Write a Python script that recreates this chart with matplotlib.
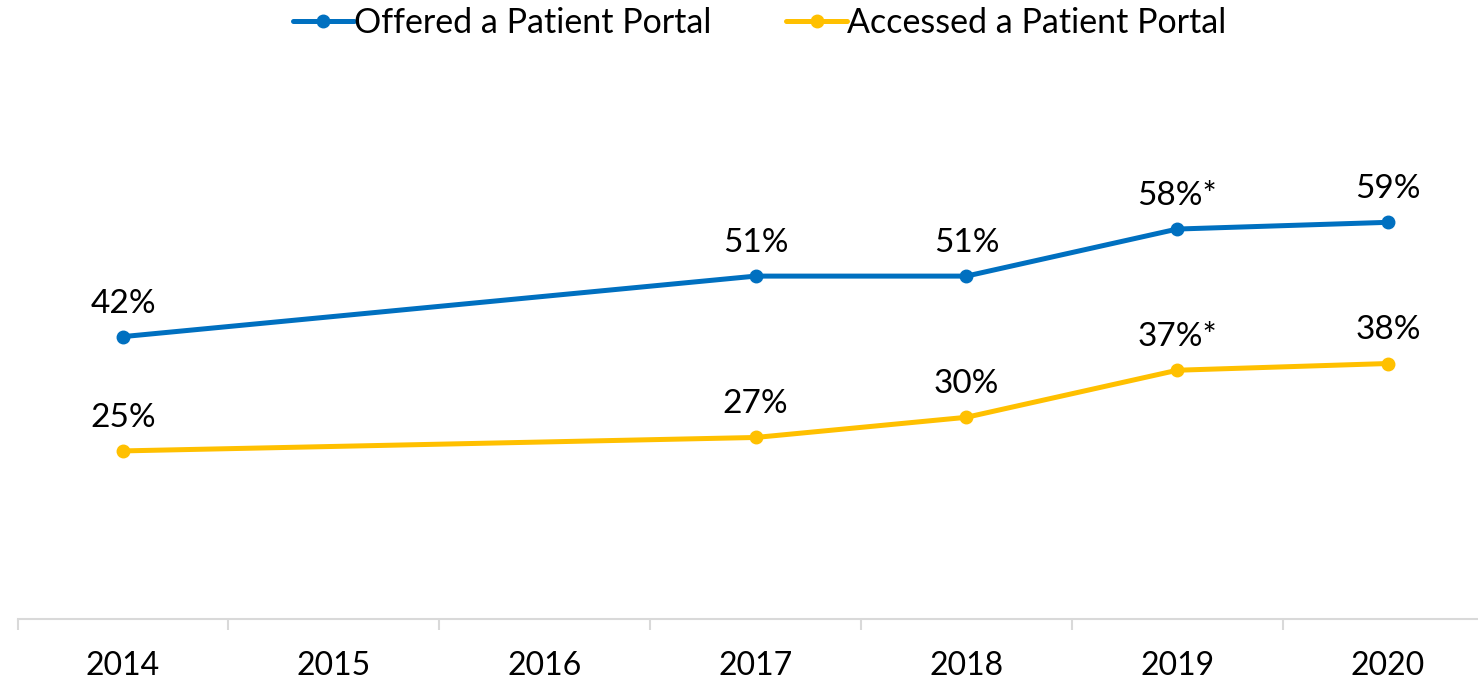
import matplotlib.pyplot as plt
import numpy as np

years = ["2014", "2015", "2016", "2017", "2018", "2019", "2020"]
offered_years = ["2014", "2017", "2018", "2019", "2020"]
offered = [42, 51, 51, 58, 59]
offered_labels = ["42%", "51%", "51%", "58%*", "59%"]
accessed = [25, 27, 30, 37, 38]
accessed_labels = ["25%", "27%", "30%", "37%*", "38%"]

plt.rcParams["font.family"] = ["Lato", "DejaVu Sans"]

fig = plt.figure(figsize=(14.78, 6.8), dpi=100)
ax = fig.add_axes([0.0119, 0.0897, 0.9986, 0.791])

xpos = [years.index(y) for y in offered_years]
blue = "#0070C0"
gold = "#FFC000"

ax.plot(xpos, offered, color=blue, lw=3.6, marker="o", ms=9,
        label="Offered a Patient Portal", solid_capstyle="round")
ax.plot(xpos, accessed, color=gold, lw=3.6, marker="o", ms=9,
        label="Accessed a Patient Portal", solid_capstyle="round")

for x, v, t in zip(xpos, offered, offered_labels):
    ax.annotate(t, (x, v), xytext=(0, 13), textcoords="offset points",
                ha="center", va="bottom", fontsize=24)
for x, v, t in zip(xpos, accessed, accessed_labels):
    ax.annotate(t, (x, v), xytext=(0, 13), textcoords="offset points",
                ha="center", va="bottom", fontsize=24)

ax.set_xlim(-0.5, len(years) - 0.5)
ax.set_ylim(0, 80)
ax.set_xticks(range(len(years)))
ax.set_xticklabels(years, fontsize=23)
ax.set_xticks(np.arange(-0.5, len(years), 1), minor=True)
ax.tick_params(axis="x", which="major", length=0, pad=23)
ax.tick_params(axis="x", which="minor", length=8, color="#D9D9D9", width=1.5)
ax.set_yticks([])
for s in ["top", "right", "left"]:
    ax.spines[s].set_visible(False)
ax.spines["bottom"].set_color("#D9D9D9")
ax.spines["bottom"].set_linewidth(1.5)

fig.legend(loc="upper center", bbox_to_anchor=(0.514, 1.035), ncol=2,
           frameon=False, fontsize=24.5, handlelength=1.8, handletextpad=0.0,
           columnspacing=2.2)

fig.savefig("out.png", dpi=100)
